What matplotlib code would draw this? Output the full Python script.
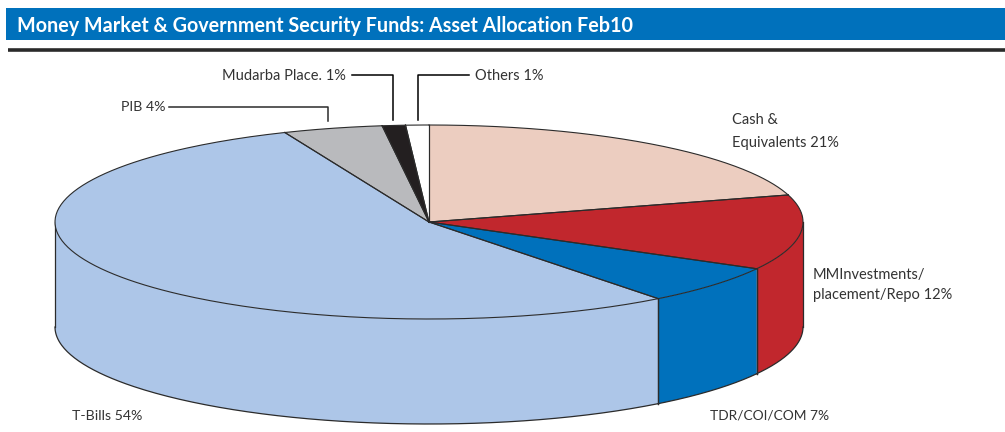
import numpy as np
import matplotlib
matplotlib.use("Agg")
import matplotlib.pyplot as plt

plt.rcParams['font.family'] = ['Lato', 'DejaVu Sans']

title = "Money Market & Government Security Funds: Asset Allocation Feb10"
categories = ["Cash & Equivalents", "MMInvestments/placement/Repo", "TDR/COI/COM",
              "T-Bills", "PIB", "Mudarba Place.", "Others"]
# slice sizes (printed labels are rounded)
values = [20.5, 12.5, 6.5, 54.2, 4.3, 1, 1]
colors = ["#eccdc0", "#c1272d", "#0071bc", "#adc6e8", "#b9babd", "#231f20", "#ffffff"]

# pie geometry in pixels
cx, cy = 429, 222
rx, ry = 374, 97
depth = 105
edge = "#2b2b2b"


def ellipse(a):
    return cx + rx*np.cos(a), cy - ry*np.sin(a)


fig = plt.figure(figsize=(10.05, 4.32), dpi=100)
ax = fig.add_axes([0, 0, 1, 1])
ax.set_xlim(0, 1005)
ax.set_ylim(432, 0)
ax.axis("off")

# header band and rule
ax.fill_between([6, 1005], 8, 40, color="#0071bc", lw=0)
ax.plot([8, 1005], [49.5, 49.5], color="#2a2a2a", lw=2.6, solid_capstyle="butt")
ax.text(17, 25.5, title, color="white", fontsize=14.2, fontweight="bold", va="center", ha="left")

# slices clockwise from 12 o'clock
fracs = np.cumsum([0] + values) / np.sum(values)
angles = np.pi/2 - 2*np.pi*fracs

# side wall, only the front half (angles between 0 and -pi) is visible
for i in range(len(values)):
    a0 = angles[i]
    a1 = angles[i+1]
    lo = max(a1, -np.pi)
    hi = min(a0, 0)
    if lo >= hi:
        continue
    t = np.linspace(hi, lo, 200)
    x, y = ellipse(t)
    ax.fill(np.r_[x, x[::-1]], np.r_[y, y[::-1] + depth], facecolor=colors[i],
            edgecolor="none", zorder=2)
    ax.plot(x, y + depth, color=edge, lw=0.9, zorder=3)
    # seams at the slice boundaries
    ax.plot([x[-1], x[-1]], [y[-1], y[-1] + depth], color=edge, lw=0.9, zorder=3)
    ax.plot([x[0], x[0]], [y[0], y[0] + depth], color=edge, lw=0.9, zorder=3)

# top face
for i in range(len(values)):
    t = np.linspace(angles[i], angles[i+1], 200)
    x, y = ellipse(t)
    ax.fill(np.r_[cx, x], np.r_[cy, y], facecolor=colors[i], edgecolor="none", zorder=4)
    ax.plot(x, y, color=edge, lw=0.8, zorder=5)
    ax.plot([cx, x[0]], [cy, y[0]], color=edge, lw=0.8, zorder=5)
    ax.plot([cx, x[-1]], [cy, y[-1]], color=edge, lw=0.8, zorder=5)

# labels
fs = 10.5
tc = "#333333"
ax.text(732, 120.5, "Cash &", fontsize=fs, color=tc, va="center")
ax.text(732, 142.5, "Equivalents 21%", fontsize=fs, color=tc, va="center")
ax.text(813, 275.5, "MMInvestments/", fontsize=fs, color=tc, va="center")
ax.text(813, 295.5, "placement/Repo 12%", fontsize=fs, color=tc, va="center")
ax.text(710, 415.5, "TDR/COI/COM 7%", fontsize=9.9, color=tc, va="center")
ax.text(72, 415.5, "T-Bills 54%", fontsize=10.2, color=tc, va="center")
ax.text(121, 107, "PIB 4%", fontsize=10.2, color=tc, va="center")
ax.text(222, 76, "Mudarba Place. 1%", fontsize=fs, color=tc, va="center")
ax.text(475, 76, "Others 1%", fontsize=fs, color=tc, va="center")

# leader lines
ax.plot([169, 328, 328], [107, 107, 121], color=edge, lw=1.1)
ax.plot([352, 393, 393], [75, 75, 120], color="black", lw=1.1)
ax.plot([469, 418, 418], [75, 75, 120], color="black", lw=1.1)

fig.savefig("out.png", dpi=100)
